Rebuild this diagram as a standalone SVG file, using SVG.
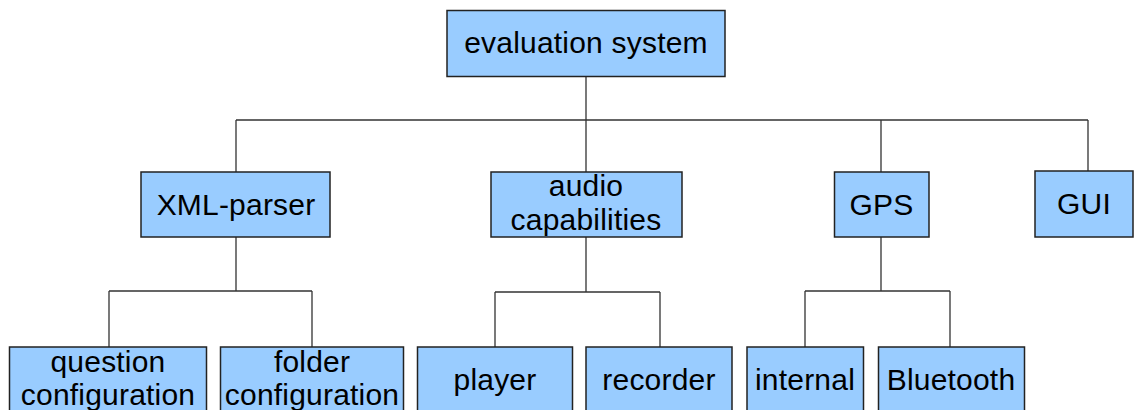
<svg xmlns="http://www.w3.org/2000/svg" width="1134" height="410" viewBox="0 0 1134 410">
<style>
.box{fill:#99ccff;stroke:#222;stroke-width:1.5}
.lbl{font-family:"Liberation Sans",Arial,sans-serif;font-size:30px;letter-spacing:0.2px;fill:#000;text-anchor:middle}
.conn{fill:none;stroke:#333;stroke-width:1.3}
</style>
<rect width="1134" height="410" fill="#fff"/>
<g id="connectors">
<path class="conn" d="M586 76V120M236 120H1088M236 120V172M586 120V172M881 120V172M1088 120V171"/>
<path class="conn" d="M236 237V291M109 291H312M109 291V347M312 291V347"/>
<path class="conn" d="M586 237V292M495 292H660M495 292V347M660 292V347"/>
<path class="conn" d="M881 237V291M805 291H950M805 291V347M950 291V347"/>
</g>
<g id="evaluation-system">
<rect class="box" x="447" y="10.5" width="278" height="66"/>
<text class="lbl" x="586" y="52.5">evaluation system</text>
</g>
<g id="xml-parser">
<rect class="box" x="141" y="172" width="189" height="65"/>
<text class="lbl" x="236" y="214.5">XML-parser</text>
</g>
<g id="audio-capabilities">
<rect class="box" x="491" y="172" width="191" height="65"/>
<text class="lbl" x="586" y="195.5">audio</text>
<text class="lbl" x="586" y="230">capabilities</text>
</g>
<g id="gps">
<rect class="box" x="834.5" y="172" width="94.5" height="65"/>
<text class="lbl" x="881.5" y="214.5">GPS</text>
</g>
<g id="gui">
<rect class="box" x="1035" y="171" width="98" height="66"/>
<text class="lbl" x="1084" y="214">GUI</text>
</g>
<g id="question-configuration">
<rect class="box" x="9.5" y="347" width="197" height="70"/>
<text class="lbl" x="108" y="371.5">question</text>
<text class="lbl" x="108" y="405">configuration</text>
</g>
<g id="folder-configuration">
<rect class="box" x="220.5" y="347" width="183" height="70"/>
<text class="lbl" x="312" y="371.5">folder</text>
<text class="lbl" x="312" y="405">configuration</text>
</g>
<g id="player">
<rect class="box" x="417.5" y="347" width="155" height="70"/>
<text class="lbl" x="495" y="389.5">player</text>
</g>
<g id="recorder">
<rect class="box" x="586" y="347" width="146" height="70"/>
<text class="lbl" x="659" y="389.5">recorder</text>
</g>
<g id="internal">
<rect class="box" x="747" y="347" width="116.5" height="70"/>
<text class="lbl" x="805" y="390">internal</text>
</g>
<g id="bluetooth">
<rect class="box" x="878.5" y="347" width="146" height="70"/>
<text class="lbl" x="951" y="390">Bluetooth</text>
</g>
</svg>
